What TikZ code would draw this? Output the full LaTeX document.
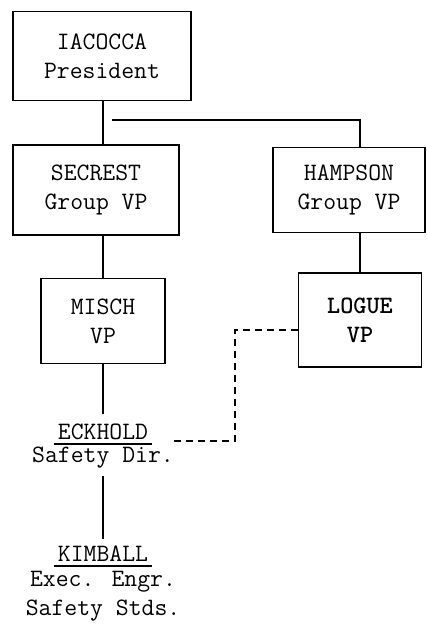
\documentclass[tikz,border=0pt]{standalone}
\usepackage{fontspec}
\usetikzlibrary{positioning}

\begin{document}
\begin{tikzpicture}[x=1pt, y=-1pt,
  every node/.style={font=\ttfamily\fontsize{25}{29}\selectfont},
  box/.style={draw, line width=1.6pt, align=center, inner sep=0pt},
  person/.style={inner sep=0pt},
  title/.style={inner sep=0pt, align=center},
  link/.style={line width=1.3pt},
  rule/.style={line width=1.5pt},
  dotline/.style={line width=2pt, dash pattern=on 7pt off 5pt}]
\useasboundingbox (0,0) rectangle (426,628);

% boxes
\node[box, minimum width=178pt, minimum height=89pt] (iacocca) at (102,56) {IACOCCA\\President};
\node[box, minimum width=166pt, minimum height=90pt] (secrest) at (96,190) {SECREST\\Group VP};
\node[box, minimum width=152pt, minimum height=85pt] (hampson) at (349,190) {HAMPSON\\Group VP};
\node[box, minimum width=124pt, minimum height=85pt] (misch) at (103,321) {MISCH\\VP};
\node[box, minimum width=123pt, minimum height=94pt, font=\ttfamily\bfseries\fontsize{25}{29}\selectfont] (logue) at (360,320) {LOGUE\\VP};

% names without boxes
\node[person] (eckhold) at (103,432) {ECKHOLD};
\node[title] (eckdir) at (103,458) {Safety Dir.};
\node[person] (kimball) at (103,554) {KIMBALL};
\node[title] (kimdir) at (103,596) {Exec. Engr.\\Safety Stds.};
\draw[rule] ([xshift=-4pt, yshift=-4pt]eckhold.south west) -- ([xshift=4pt, yshift=-4pt]eckhold.south east) coordinate (eckline);
\draw[rule] ([xshift=-4pt, yshift=-4pt]kimball.south west) -- ([xshift=4pt, yshift=-4pt]kimball.south east);

% solid lines
\coordinate (split) at (112,120);
\draw[link] (iacocca.south -| misch.north) -- (misch.north |- secrest.north);
\draw[link] (split) -| (logue.north |- hampson.north);
\draw[link] (secrest.south -| misch.north) -- (misch.north);
\draw[link] (hampson.south -| logue.north) -- (logue.north);
\draw[link] (misch.south) -- ([yshift=10pt]eckhold.north);
\draw[link, shorten <=7pt, shorten >=7pt] (eckdir.south) -- (kimball.north);

% dashed line
\coordinate (bend) at (235,330);
\coordinate (dashend) at (170,441);
\draw[dotline] (logue.west |- bend) -- (bend) |- (dashend);
\end{tikzpicture}
\end{document}
